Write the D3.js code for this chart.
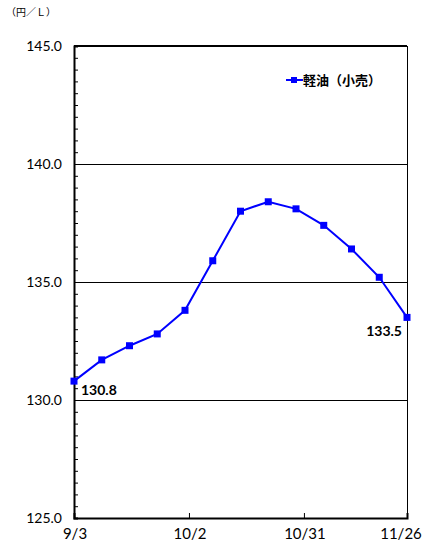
<!DOCTYPE html>
<html>
<head>
<meta charset="utf-8">
<script src="https://cdn.jsdelivr.net/npm/d3@7"></script>
<style>
body { margin: 0; background: #fff; }
text { font-family: Lato, "DejaVu Sans", sans-serif; }
.jp { font-family: "Noto Sans CJK JP", sans-serif; }
</style>
</head>
<body>
<div id="chart"></div>
<script>
// weekly retail diesel prices (yen / L)
var dates = ["9/3", "9/10", "9/17", "9/24", "10/1", "10/8", "10/15", "10/22", "10/29", "11/5", "11/12", "11/19", "11/26"];
var prices = [130.8, 131.7, 132.3, 132.8, 133.8, 135.9, 138.0, 138.4, 138.1, 137.4, 136.4, 135.2, 133.5];
var xTickLabels = ["9/3", "10/2", "10/31", "11/26"];
var yTicks = [125, 130, 135, 140, 145];
var seriesName = "軽油（小売）";
var unitLabel = "（円／Ｌ）";

var width = 429, height = 546;
var margin = {top: 46, right: 22, bottom: 28, left: 74};

var parse = d3.timeParse("%Y/%m/%d");
var toDate = function(s) { return parse("2012/" + s); };

var svg = d3.select("#chart")
.append("svg")
.attr("width", width)
.attr("height", height);

var x = d3.scaleTime()
.domain([toDate(dates[0]), toDate(dates[dates.length - 1])])
.range([margin.left, width - margin.right]);

var y = d3.scaleLinear()
.domain([125, 145])
.range([height - margin.bottom, margin.top]);

// grid lines
svg.selectAll(".grid")
.data([130, 135, 140])
.enter()
.append("line")
.attr("x1", x.range()[0])
.attr("x2", x.range()[1])
.attr("y1", function(d) { return y(d) + 0.5; })
.attr("y2", function(d) { return y(d) + 0.5; })
.style("stroke", "#000")
.style("stroke-width", 1);

// frame: top + right
svg.append("line")
.attr("x1", x.range()[0]).attr("x2", x.range()[1])
.attr("y1", y(145)).attr("y2", y(145))
.style("stroke", "#000").style("stroke-width", 2);
svg.append("line")
.attr("x1", x.range()[1] + 0.5).attr("x2", x.range()[1] + 0.5)
.attr("y1", y(145)).attr("y2", y(125))
.style("stroke", "#000").style("stroke-width", 1);

// y axis, ticks inside
var yAxis = d3.axisRight(y)
.tickValues(d3.range(125, 145.01, 0.5))
.tickSize(4)
.tickFormat("");
var ya = svg.append("g")
.attr("transform", "translate(" + margin.left + ",0)")
.call(yAxis);
ya.select(".domain").style("stroke-width", 2);
ya.selectAll(".tick line").style("stroke", "#000");

svg.selectAll(".ylab")
.data(yTicks)
.enter()
.append("text")
.attr("x", margin.left - 12)
.attr("y", function(d) { return y(d) + 5; })
.attr("text-anchor", "end")
.style("font-size", "14px")
.text(function(d) { return d.toFixed(1); });

// x axis, ticks inside
var xAxis = d3.axisTop(x)
.tickValues(xTickLabels.map(toDate))
.tickSize(5)
.tickFormat("");
var xa = svg.append("g")
.attr("transform", "translate(0," + y(125) + ")")
.call(xAxis);
xa.select(".domain").style("stroke-width", 2);

svg.selectAll(".xlab")
.data(xTickLabels)
.enter()
.append("text")
.attr("x", function(d, i) { return x(toDate(d)) + (i == xTickLabels.length - 1 ? -6 : 1); })
.attr("y", height - 7)
.attr("text-anchor", "middle")
.style("font-size", "15px")
.text(function(d) { return d; });

// unit
svg.append("text")
.attr("class", "jp")
.attr("x", 6)
.attr("y", 16)
.style("font-size", "10px")
.text(unitLabel);

// series
var line = d3.line()
.x(function(d, i) { return x(toDate(dates[i])); })
.y(function(d) { return y(d); });

svg.append("path")
.datum(prices)
.attr("d", line)
.style("fill", "none")
.style("stroke", "#0000ff")
.style("stroke-width", 2);

svg.selectAll(".pt")
.data(prices)
.enter()
.append("rect")
.attr("x", function(d, i) { return x(toDate(dates[i])) - 3.5; })
.attr("y", function(d) { return y(d) - 3.5; })
.attr("width", 7)
.attr("height", 7)
.style("fill", "#0000ff");

// end labels
var last = prices.length - 1;
svg.append("text")
.attr("x", x(toDate(dates[0])) + 7)
.attr("y", y(prices[0]) + 14)
.style("font-size", "14px")
.style("font-weight", "bold")
.text(prices[0].toFixed(1));
svg.append("text")
.attr("x", x(toDate(dates[last])) - 5)
.attr("y", y(prices[last]) + 19)
.attr("text-anchor", "end")
.style("font-size", "14px")
.style("font-weight", "bold")
.text(prices[last].toFixed(1));

// legend
var lg = svg.append("g").attr("transform", "translate(286,80)");
lg.append("line")
.attr("x1", 0).attr("x2", 17)
.style("stroke", "#0000ff").style("stroke-width", 2);
lg.append("rect")
.attr("x", 5).attr("y", -3).attr("width", 6).attr("height", 6)
.style("fill", "#0000ff");
lg.append("text")
.attr("class", "jp")
.attr("x", 17)
.attr("y", 5)
.style("font-size", "13px")
.style("font-weight", "bold")
.text(seriesName);
</script>
</body>
</html>
